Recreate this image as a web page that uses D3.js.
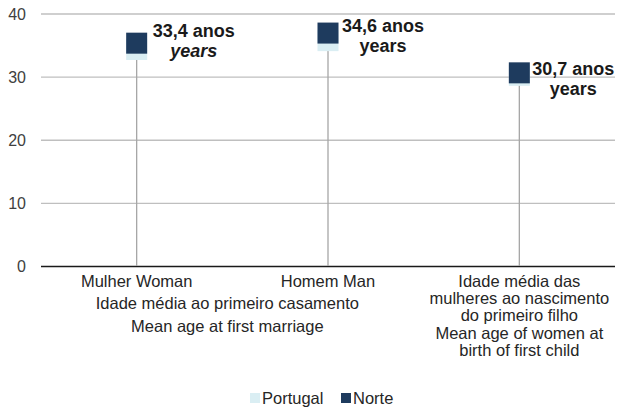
<!DOCTYPE html>
<html>
<head>
<meta charset="utf-8">
<script src="https://cdn.jsdelivr.net/npm/d3@7"></script>
<style>
  body { margin: 0; background: #fff; }
  svg { font-family: "Liberation Sans", Arial, sans-serif; }
  .tick text { fill: #404040; font-size: 16px; }
</style>
</head>
<body>
<div id="chart"></div>
<script>
// chart data
var categories = ['Mulher Woman', 'Homem Man', 'Idade média das mulheres'];
var categoryLines = [
  ['Mulher Woman'],
  ['Homem Man'],
  ['Idade média das', 'mulheres ao nascimento', 'do primeiro filho', 'Mean age of women at', 'birth of first child']
];
var groupLines = ['Idade média ao primeiro casamento', 'Mean age at first marriage'];
var portugal = [34.3, 35.7, 30.2];
var norte = [35.3, 36.9, 30.6];
var valueLabels = ['33,4 anos', '34,6 anos', '30,7 anos'];
var yearsItalic = [true, false, false];
var yTicks = [0, 10, 20, 30, 40];
var seriesNames = ['Portugal', 'Norte'];

var svgWidth = 619;
var svgHeight = 410;
var margin = { top: 13.5, right: 4, bottom: 144, left: 41 };
var colors = { Portugal: '#daeef3', Norte: '#1e3b5e' };
// manual nudges of the data labels (x, y of first baseline vs marker centre)
var labelNudge = [[57, -6], [55, -1], [54, 2.5]];

var svg = d3.select('#chart')
  .append('svg')
  .attr('width', svgWidth)
  .attr('height', svgHeight);

var x = d3.scaleBand()
  .domain(categories)
  .range([margin.left, svgWidth - margin.right])
  .padding(0);

var y = d3.scaleLinear()
  .domain([0, 40])
  .range([svgHeight - margin.bottom, margin.top]);

// gridlines + y labels
var yAxis = svg.append('g')
  .attr('transform', `translate(${margin.left},0)`)
  .call(d3.axisLeft(y)
    .tickValues(yTicks)
    .tickSize(-(svgWidth - margin.left - margin.right))
    .tickPadding(15));
yAxis.select('.domain').remove();
yAxis.selectAll('.tick line')
  .attr('stroke', d => d === 0 ? '#1a1a1a' : '#bfbfbf')
  .attr('stroke-width', d => d === 0 ? 1.6 : 1.3);
yAxis.selectAll('.tick text').attr('dy', '0.35em');

// drop lines
svg.selectAll('.drop')
  .data(categories)
  .enter()
  .append('line')
  .attr('x1', d => x(d) + x.bandwidth() / 2)
  .attr('x2', d => x(d) + x.bandwidth() / 2)
  .attr('y1', (d, i) => y(portugal[i]))
  .attr('y2', y(0))
  .attr('stroke', '#a6a6a6')
  .attr('stroke-width', 1.3);

var size = 21;
// Portugal markers
svg.selectAll('.pt')
  .data(categories)
  .enter()
  .append('rect')
  .attr('x', d => x(d) + x.bandwidth() / 2 - size / 2)
  .attr('y', (d, i) => y(portugal[i]) - size / 2)
  .attr('width', size)
  .attr('height', size)
  .attr('fill', colors.Portugal);

// Norte markers
svg.selectAll('.nt')
  .data(categories)
  .enter()
  .append('rect')
  .attr('x', d => x(d) + x.bandwidth() / 2 - size / 2)
  .attr('y', (d, i) => y(norte[i]) - size / 2)
  .attr('width', size)
  .attr('height', size)
  .attr('fill', colors.Norte);

// value labels
var labels = svg.selectAll('.vlabel')
  .data(categories)
  .enter()
  .append('text')
  .attr('text-anchor', 'middle')
  .attr('font-size', 18)
  .attr('font-weight', 'bold')
  .attr('fill', '#1a1a1a')
  .attr('transform', (d, i) => `translate(${x(d) + x.bandwidth() / 2 + labelNudge[i][0]},${y(norte[i]) + labelNudge[i][1]})`);
labels.append('tspan')
  .attr('x', 0)
  .text((d, i) => valueLabels[i]);
labels.append('tspan')
  .attr('x', 0)
  .attr('dy', 19.5)
  .attr('font-style', (d, i) => yearsItalic[i] ? 'italic' : 'normal')
  .text('years');

// category labels
svg.selectAll('.clabel')
  .data(categories)
  .enter()
  .append('text')
  .attr('text-anchor', 'middle')
  .attr('font-size', 16.5)
  .attr('fill', '#262626')
  .attr('transform', d => `translate(${x(d) + x.bandwidth() / 2},${y(0) + 21})`)
  .each(function(d, i) {
    var t = d3.select(this);
    categoryLines[i].forEach(function(line, j) {
      t.append('tspan').attr('x', 0).attr('y', j * 17.2).text(line);
    });
  });

// group label for the first two categories
var groupX = (x(categories[0]) + x(categories[1]) + x.bandwidth()) / 2 - 5;
svg.append('text')
  .attr('text-anchor', 'middle')
  .attr('font-size', 16.5)
  .attr('fill', '#262626')
  .attr('transform', `translate(${groupX},${y(0) + 43})`)
  .selectAll('tspan')
  .data(groupLines)
  .enter()
  .append('tspan')
  .attr('x', 0)
  .attr('y', (d, i) => i * 23)
  .text(d => d);

// legend
var legend = svg.append('g').attr('transform', 'translate(250,398)');
var legendX = [0, 91];
seriesNames.forEach(function(name, i) {
  var g = legend.append('g').attr('transform', `translate(${legendX[i]},0)`);
  g.append('rect')
    .attr('x', 0).attr('y', -5)
    .attr('width', 10).attr('height', 10)
    .attr('fill', colors[name]);
  g.append('text')
    .attr('x', 12).attr('y', 6)
    .attr('font-size', 16.5)
    .attr('fill', '#262626')
    .text(name);
});
</script>
</body>
</html>
